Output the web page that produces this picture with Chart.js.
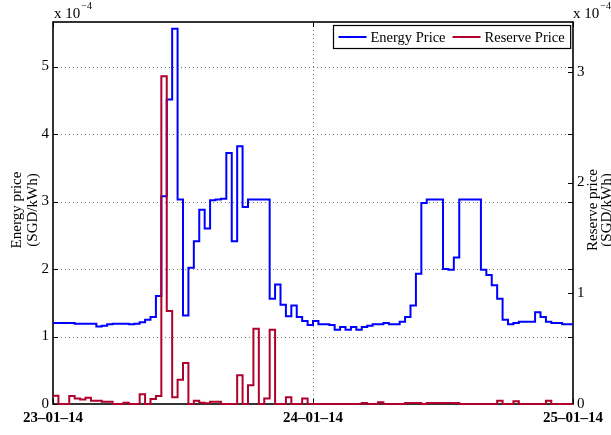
<!DOCTYPE html>
<html>
<head>
<meta charset="utf-8">
<script src="https://cdn.jsdelivr.net/npm/chart.js@4/dist/chart.umd.min.js"></script>
<style>
  html, body { margin: 0; padding: 0; background: #ffffff; }
  canvas { display: block; }
</style>
</head>
<body>
<canvas id="prices" width="611" height="435"></canvas>
<script>
// Half-hourly dispatch periods from 23-01-14 00:00 to 25-01-14 00:00.
const dayLabels = ['23–01–14', '24–01–14', '25–01–14'];
const periodsPerDay = 48;

// Energy price per period (x 10^-4 SGD/kWh).
const energyPrice = [
  1.20, 1.20, 1.20, 1.20, 1.19, 1.19, 1.19, 1.19, 1.15, 1.16, 1.18, 1.19,
  1.19, 1.19, 1.18, 1.19, 1.21, 1.25, 1.29, 1.60, 3.08, 4.51, 5.56, 3.03,
  1.31, 2.02, 2.41, 2.88, 2.60, 3.02, 3.03, 3.04, 3.72, 2.41, 3.82, 2.92,
  3.03, 3.03, 3.03, 3.03, 1.56, 1.77, 1.47, 1.30, 1.46, 1.29, 1.23, 1.17,
  1.23, 1.18, 1.18, 1.17, 1.10, 1.14, 1.10, 1.14, 1.10, 1.14, 1.16, 1.18,
  1.18, 1.20, 1.18, 1.18, 1.22, 1.29, 1.46, 1.93, 2.98, 3.03, 3.03, 3.03,
  2.00, 1.99, 2.17, 3.03, 3.03, 3.03, 3.03, 1.99, 1.91, 1.76, 1.56, 1.25,
  1.18, 1.20, 1.22, 1.22, 1.22, 1.36, 1.29, 1.22, 1.20, 1.20, 1.18, 1.18
];

// Reserve price per period (x 10^-4 SGD/kWh).
const reservePrice = [
  0.075, 0, 0, 0.072, 0.050, 0.040, 0.057, 0.030, 0.030, 0.020, 0.020, 0,
  0, 0.012, 0, 0, 0.087, 0, 0.045, 0.072, 2.96, 0.84, 0.060, 0.22,
  0.37, 0, 0.030, 0.012, 0.006, 0.020, 0.020, 0, 0, 0, 0.26, 0,
  0.17, 0.68, 0, 0.050, 0.67, 0, 0, 0.060, 0, 0, 0.050, 0,
  0, 0, 0, 0, 0, 0, 0, 0, 0, 0.010, 0, 0,
  0.015, 0, 0, 0, 0, 0.010, 0.010, 0.010, 0, 0.008, 0.008, 0.008,
  0.008, 0.008, 0.008, 0, 0, 0, 0, 0, 0, 0, 0.030, 0,
  0, 0.025, 0, 0, 0, 0, 0, 0.030, 0, 0, 0, 0
];

const seriesNames = ['Energy Price', 'Reserve Price'];
const seriesColors = ['#0000ff', '#b0002c'];
const axisTitles = [['Energy price', '(SGD/kWh)'], ['Reserve price', '(SGD/kWh)']];
const axisMultiplier = ['x 10', '−4'];
const energyAxisMax = 5.66;
const reserveAxisMax = 3.45;

const SERIF = "'Liberation Serif', 'Times New Roman', serif";

// Stairs: each period's value holds until the next period starts.
function toStairs(values) {
  const pts = values.map((v, i) => ({ x: i, y: v }));
  pts.push({ x: values.length, y: values[values.length - 1] });
  return pts;
}

const framePlugin = {
  id: 'frame',
  beforeDatasetsDraw(chart) {
    const { ctx, chartArea: a, scales } = chart;
    const yE = scales.yE, yR = scales.yR, x = scales.x;
    ctx.save();
    // dotted grid at the energy-axis ticks and at the day boundary
    ctx.strokeStyle = '#777';
    ctx.lineWidth = 1;
    ctx.setLineDash([1, 3]);
    yE.ticks.forEach(t => {
      if (t.value <= 0) return;
      const py = Math.round(yE.getPixelForValue(t.value)) + 0.5;
      ctx.beginPath(); ctx.moveTo(a.left, py); ctx.lineTo(a.right, py); ctx.stroke();
    });
    x.ticks.forEach(t => {
      if (t.value <= x.min || t.value >= x.max) return;
      const px = Math.round(x.getPixelForValue(t.value)) + 0.5;
      ctx.beginPath(); ctx.moveTo(px, a.top); ctx.lineTo(px, a.bottom); ctx.stroke();
    });
    ctx.setLineDash([]);
    // axes box
    ctx.strokeStyle = '#000';
    ctx.lineWidth = 1.6;
    ctx.strokeRect(a.left, a.top, a.right - a.left, a.bottom - a.top);
    // inward tick marks
    const tl = 5;
    ctx.lineWidth = 1;
    ctx.beginPath();
    yE.ticks.forEach(t => {
      const py = Math.round(yE.getPixelForValue(t.value)) + 0.5;
      ctx.moveTo(a.left, py); ctx.lineTo(a.left + tl, py);
      ctx.moveTo(a.right, py); ctx.lineTo(a.right - tl, py);
    });
    yR.ticks.forEach(t => {
      const py = Math.round(yR.getPixelForValue(t.value)) + 0.5;
      ctx.moveTo(a.right, py); ctx.lineTo(a.right - tl, py);
    });
    x.ticks.forEach(t => {
      const px = Math.round(x.getPixelForValue(t.value)) + 0.5;
      ctx.moveTo(px, a.bottom); ctx.lineTo(px, a.bottom - tl);
      ctx.moveTo(px, a.top); ctx.lineTo(px, a.top + tl);
    });
    ctx.stroke();
    ctx.restore();
  },
  afterDatasetsDraw(chart) {
    const { ctx, chartArea: a } = chart;
    ctx.save();
    ctx.fillStyle = '#000';

    // exponent labels above both value axes
    const drawMultiplier = (left) => {
      ctx.textAlign = 'left';
      ctx.textBaseline = 'alphabetic';
      ctx.font = '15px ' + SERIF;
      ctx.fillText(axisMultiplier[0], left, 18);
      const w = ctx.measureText(axisMultiplier[0]).width;
      ctx.font = '10px ' + SERIF;
      ctx.fillText(axisMultiplier[1], left + w + 1, 9);
    };
    drawMultiplier(a.left + 1);
    drawMultiplier(a.right);

    // rotated two-line axis titles
    const drawTitle = (lines, cx, cy, gap) => {
      ctx.font = '15px ' + SERIF;
      ctx.textAlign = 'center';
      ctx.textBaseline = 'middle';
      lines.forEach((line, i) => {
        ctx.save();
        ctx.translate(cx + i * gap, cy);
        ctx.rotate(-Math.PI / 2);
        ctx.fillText(line, 0, 0);
        ctx.restore();
      });
    };
    const midY = (a.top + a.bottom) / 2 - 3;
    drawTitle(axisTitles[0], 17, midY, 16);
    drawTitle(axisTitles[1], a.right + 20, midY, 14);

    // legend box in the upper right corner
    ctx.font = '14.5px ' + SERIF;
    const sample = 28, pad = 5, gapText = 4, gapEntry = 7;
    const widths = seriesNames.map(n => ctx.measureText(n).width);
    let boxW = pad + 6;
    widths.forEach((w, i) => { boxW += sample + gapText + w + (i < widths.length - 1 ? gapEntry : 0); });
    const boxH = 23;
    const bx = Math.round(a.right - 3 - boxW) + 0.5;
    const by = Math.round(a.top + 3) + 0.5;
    ctx.fillStyle = '#fff';
    ctx.fillRect(bx, by, boxW, boxH);
    ctx.strokeStyle = '#000';
    ctx.lineWidth = 1.2;
    ctx.strokeRect(bx, by, boxW, boxH);
    let cx = bx + pad;
    const cy = by + boxH / 2;
    ctx.textAlign = 'left';
    ctx.textBaseline = 'middle';
    seriesNames.forEach((name, i) => {
      ctx.strokeStyle = seriesColors[i];
      ctx.lineWidth = 2;
      ctx.beginPath(); ctx.moveTo(cx, cy); ctx.lineTo(cx + sample, cy); ctx.stroke();
      cx += sample + gapText;
      ctx.fillStyle = '#000';
      ctx.fillText(name, cx, cy + 1);
      cx += widths[i] + gapEntry;
    });
    ctx.restore();
  }
};

new Chart(document.getElementById('prices'), {
  type: 'line',
  data: {
    datasets: [
      {
        label: seriesNames[0],
        data: toStairs(energyPrice),
        yAxisID: 'yE',
        borderColor: seriesColors[0],
        borderWidth: 2,
        stepped: true,
        pointRadius: 0,
        fill: false,
        clip: 3,
        order: 2
      },
      {
        label: seriesNames[1],
        data: toStairs(reservePrice),
        yAxisID: 'yR',
        borderColor: seriesColors[1],
        borderWidth: 2,
        stepped: true,
        pointRadius: 0,
        fill: false,
        clip: 3,
        order: 1
      }
    ]
  },
  options: {
    responsive: false,
    animation: false,
    devicePixelRatio: 1,
    layout: { padding: { top: 22, left: 0, right: 0, bottom: 0 } },
    plugins: { legend: { display: false }, tooltip: { enabled: false } },
    scales: {
      x: {
        type: 'linear',
        min: 0,
        max: energyPrice.length,
        grid: { display: false, drawTicks: false, tickLength: 0 },
        border: { display: false },
        afterFit(s) { s.height = 31; },
        ticks: {
          stepSize: periodsPerDay,
          autoSkip: false,
          maxRotation: 0,
          padding: 5,
          color: '#000',
          font: { family: SERIF, size: 15, weight: 'bold' },
          callback: v => dayLabels[Math.round(v / periodsPerDay)]
        }
      },
      yE: {
        position: 'left',
        min: 0,
        max: energyAxisMax,
        grid: { display: false, drawTicks: false, tickLength: 0 },
        border: { display: false },
        afterFit(s) { s.width = 53; },
        ticks: {
          stepSize: 1,
          includeBounds: false,
          padding: 4,
          color: '#000',
          font: { family: SERIF, size: 15 }
        }
      },
      yR: {
        position: 'right',
        min: 0,
        max: reserveAxisMax,
        grid: { display: false, drawTicks: false, tickLength: 0 },
        border: { display: false },
        afterFit(s) { s.width = 38; },
        ticks: {
          stepSize: 1,
          includeBounds: false,
          padding: 4,
          color: '#000',
          font: { family: SERIF, size: 15 }
        }
      }
    }
  },
  plugins: [framePlugin]
});
</script>
</body>
</html>
